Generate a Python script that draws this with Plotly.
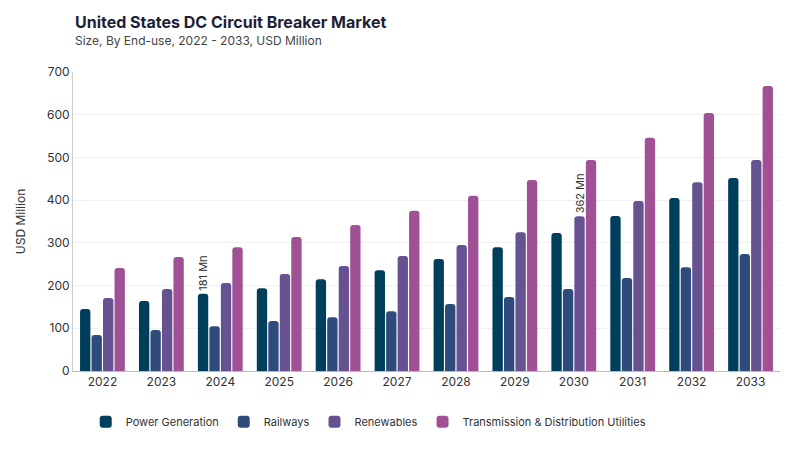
import plotly.graph_objects as go

# data
years = ['2022', '2023', '2024', '2025', '2026', '2027', '2028', '2029', '2030', '2031', '2032', '2033']
power_generation = [145, 164, 181, 194, 215, 236, 262, 290, 323, 363, 405, 452]
railways = [84, 96, 105, 117, 126, 140, 157, 173, 192, 218, 243, 274]
renewables = [171, 192, 206, 227, 246, 269, 295, 325, 362, 398, 442, 494]
td_utilities = [241, 267, 290, 314, 342, 375, 410, 447, 494, 546, 604, 667]

# only two bars carry a label
pg_labels = ['' if y != '2024' else '181 Mn' for y in years]
ren_labels = ['' if y != '2030' else '362 Mn' for y in years]

series = [
    ('Power Generation', power_generation, '#003f5c', pg_labels),
    ('Railways', railways, '#2f4b7c', None),
    ('Renewables', renewables, '#665191', ren_labels),
    ('Transmission & Distribution Utilities', td_utilities, '#a05195', None),
]

fig = go.Figure()
for name, vals, color, labels in series:
    fig.add_trace(go.Bar(
        name=name, x=years, y=vals,
        marker=dict(color=color, line=dict(width=0)),
        text=labels, textposition='outside' if labels else 'none',
        textangle=-90, cliponaxis=False, constraintext='none',
        textfont=dict(size=11, color='#333333', family='Inter'),
    ))

# title and subtitle as annotations so they sit where the reference has them
fig.add_annotation(text='<b>United States DC Circuit Breaker Market</b>', xref='paper', yref='paper',
                   x=0.0, y=1.167, xanchor='left', yanchor='middle', showarrow=False,
                   font=dict(size=16, color='#1e1e38'))
fig.add_annotation(text='Size, By End-use, 2022 - 2033, USD Million', xref='paper', yref='paper',
                   x=0.0, y=1.104, xanchor='left', yanchor='middle', showarrow=False,
                   font=dict(size=12, color='#444444'))

fig.update_layout(
    width=792, height=442,
    barmode='group', bargap=0.22, bargroupgap=0.1, barcornerradius=3,
    plot_bgcolor='white', paper_bgcolor='white',
    font=dict(family='Inter, sans-serif', size=12, color='#333333'),
    margin=dict(l=63, r=20, t=64, b=79),
    xaxis=dict(showline=True, linecolor='#bbbbbb', linewidth=1, ticks='',
               tickfont=dict(size=12, color='#333333')),
    yaxis=dict(range=[0, 700], dtick=100, showgrid=True, gridcolor='#f0f0f0',
               showline=True, linecolor='#cccccc', zeroline=False,
               tickfont=dict(size=12, color='#333333'),
               title=dict(text='USD Million', font=dict(size=12, color='#333333'), standoff=18)),
    legend=dict(orientation='h', x=0.018, xanchor='left', y=-0.17, yanchor='middle',
                font=dict(size=11, color='#333333')),
)

fig.write_html("out.html")
